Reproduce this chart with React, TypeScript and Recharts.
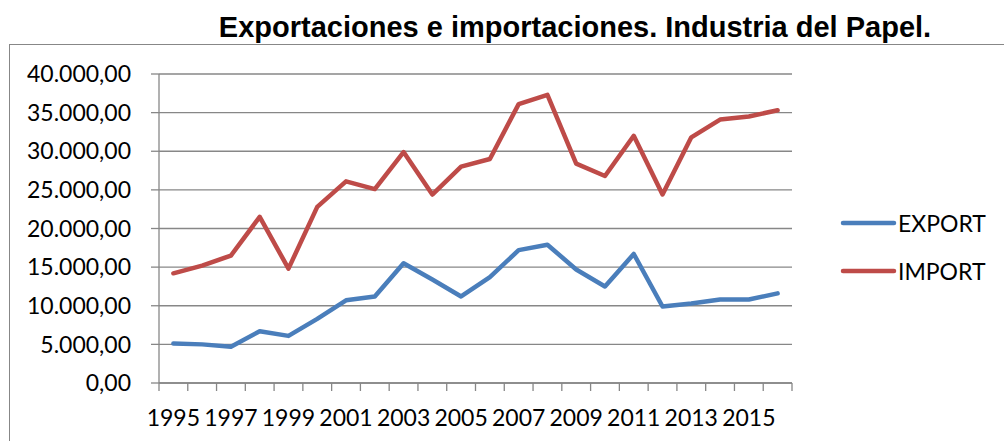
import React from "react";
import { LineChart, Line, XAxis, YAxis, CartesianGrid, Legend } from "recharts";

const years = ["1995","1996","1997","1998","1999","2000","2001","2002","2003","2004","2005","2006","2007","2008","2009","2010","2011","2012","2013","2014","2015","2016"];
const exportValues = [5100, 5000, 4700, 6700, 6100, 8300, 10700, 11200, 15500, 13400, 11200, 13700, 17200, 17900, 14700, 12500, 16700, 9900, 10300, 10800, 10800, 11600];
const importValues = [14200, 15200, 16500, 21500, 14800, 22800, 26100, 25100, 29900, 24400, 28000, 29000, 36100, 37300, 28400, 26800, 32000, 24400, 31800, 34100, 34500, 35300];
const yTicks = [0, 5000, 10000, 15000, 20000, 25000, 30000, 35000, 40000];
const seriesNames = ["EXPORT", "IMPORT"];
const seriesColors = ["#4A7EBB", "#BE4B48"];
const title = "Exportaciones e importaciones. Industria del Papel.";

const data = years.map((y, i) => ({
  year: y,
  EXPORT: exportValues[i],
  IMPORT: importValues[i],
}));

const fmt = (v: number) => {
  const s = Math.round(v).toString().replace(/\B(?=(\d{3})+(?!\d))/g, ".");
  return s + ",00";
};

const GRID = "#878787";
const FONT = "Lato, 'Noto Sans', sans-serif";
const FS = 23;

const XTick = (props: any) => {
  const { x, y, payload, index } = props;
  const off = payload && typeof payload.offset === "number" ? payload.offset : 0;
  const isLast = index === years.length - 1;
  return (
    <g>
      <line x1={x - off} y1={y} x2={x - off} y2={y + 8} stroke={GRID} strokeWidth={1.3} />
      {isLast && <line x1={x + off} y1={y} x2={x + off} y2={y + 8} stroke={GRID} strokeWidth={1.3} />}
      {index % 2 === 0 && (
        <text x={x} y={y + 43} textAnchor="middle" fill="#000" fontSize={FS} fontFamily={FONT}>
          {payload.value}
        </text>
      )}
    </g>
  );
};

const LegendContent = () => (
  <div style={{ fontFamily: FONT, fontSize: FS, color: "#000" }}>
    {seriesNames.map((n, i) => (
      <div key={n} style={{ display: "flex", alignItems: "center", height: 48 }}>
        <svg width={58} height={10} style={{ display: "block" }}>
          <line x1={3} y1={5} x2={54} y2={5} stroke={seriesColors[i]} strokeWidth={4.5} strokeLinecap="round" />
        </svg>
        <span style={{ lineHeight: "24px" }}>{n}</span>
      </div>
    ))}
  </div>
);

export default function App() {
  return (
    <div style={{ position: "relative", width: 1004, height: 441, overflow: "hidden", background: "#fff" }}>
      <style>{`body{margin:0;}`}</style>
      <div style={{ position: "absolute", left: 9, top: 44, width: 1100, height: 500, border: `1px solid ${GRID}` }} />
      <div style={{ position: "absolute", left: 0, top: 13, width: 1150, textAlign: "center", fontFamily: "'Liberation Sans', Arial, sans-serif", fontWeight: "bold", fontSize: 29, lineHeight: "29px", color: "#000", whiteSpace: "nowrap" }}>
        {title}
      </div>
      <div style={{ position: "absolute", left: 0, top: 0 }}>
        <LineChart width={1004} height={441} data={data} margin={{ top: 74, right: 212, left: 0, bottom: 8 }}>
          <CartesianGrid vertical={false} stroke={GRID} strokeWidth={1.3} />
          <YAxis
            width={159}
            domain={[0, 40000]}
            ticks={yTicks}
            tickFormatter={fmt}
            tickSize={8}
            tickMargin={20}
            stroke={GRID}
            strokeWidth={1.3}
            tick={{ fill: "#000", fontSize: FS, fontFamily: FONT }}
            interval={0}
          />
          <XAxis
            dataKey="year"
            scale="band"
            interval={0}
            height={50}
            stroke={GRID}
            strokeWidth={1.3}
            tickLine={false}
            tickSize={0}
            tickMargin={0}
            tick={<XTick />}
          />
          <Legend
            layout="horizontal"
            verticalAlign="middle"
            align="center"
            content={LegendContent}
            wrapperStyle={{ position: "absolute", left: 840, top: 199, width: 170 }}
          />
          <Line type="linear" dataKey="EXPORT" stroke={seriesColors[0]} strokeWidth={4.5} dot={false} strokeLinejoin="round" strokeLinecap="round" isAnimationActive={false} />
          <Line type="linear" dataKey="IMPORT" stroke={seriesColors[1]} strokeWidth={4.5} dot={false} strokeLinejoin="round" strokeLinecap="round" isAnimationActive={false} />
        </LineChart>
      </div>
    </div>
  );
}
